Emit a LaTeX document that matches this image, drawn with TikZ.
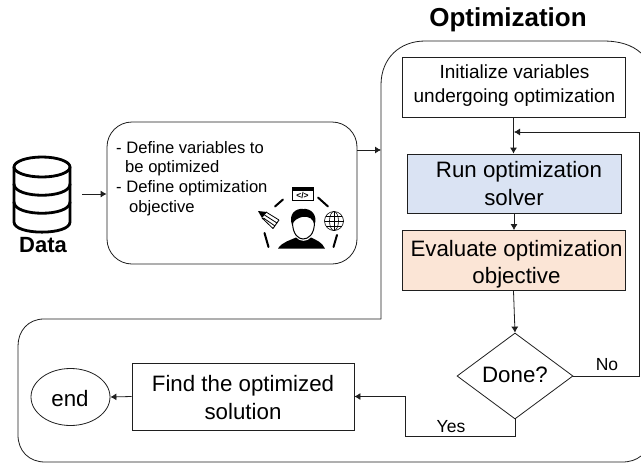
\documentclass[tikz,border=0pt]{standalone}
\usepackage{fontspec}
\setmainfont{Liberation Sans}
\usetikzlibrary{arrows.meta,shapes.geometric}
\definecolor{linegray}{gray}{0.12}
\definecolor{runblue}{HTML}{DAE3F3}
\definecolor{evalorange}{HTML}{FBE5D6}
\tikzset{
  flowbox/.style={draw=linegray,line width=0.8pt,inner sep=0pt,align=center,font=\fontsize{22.3}{27.5}\selectfont},
  flowtext/.style={inner sep=0pt,align=center,font=\fontsize{22.3}{27.5}\selectfont},
  flow/.style={draw=linegray,line width=0.8pt,-{Latex[length=6pt,width=7pt]}},
  plain/.style={draw=linegray,line width=0.8pt},
  lbl/.style={font=\fontsize{17.5}{20}\selectfont,inner sep=0pt},
  icon/.style={draw=black,line width=2pt,line cap=round},
  dbline/.style={draw=black,line width=2.8pt,line cap=round,line join=round}
}
\begin{document}
\begin{tikzpicture}[x=1pt,y=-1pt]
\useasboundingbox (0,0) rectangle (641,464);
\fill[white] (0,0) rectangle (641,464);
% outer border
\draw[plain] (381,319) -- (381,85) .. controls (381,58) and (400,41) .. (425,41) -- (603,41)
  .. controls (620,41) and (632,45) .. (641,53);
\draw[plain] (381,319) -- (44,319) .. controls (28,319) and (18,331) .. (18,346) -- (18,435)
  .. controls (18,451) and (29,462) .. (45,462) -- (622,462) .. controls (630,462) and (636,460) .. (641,456);
% title and labels
\node[font=\bfseries\fontsize{26}{30}\selectfont,inner sep=0pt] (title) at (508,20) {Optimization};
\node[font=\bfseries\fontsize{22}{26}\selectfont,inner sep=0pt] (datalbl) at (43,245) {Data};
% database icon
\draw[dbline] (42,167) ellipse [x radius=28,y radius=10];
\draw[dbline] (14,167) -- (14,222) .. controls (14,235.5) and (70,235.5) .. (70,222) -- (70,167);
\draw[dbline] (14,184) .. controls (14,199) and (70,199) .. (70,184);
\draw[dbline] (14,202) .. controls (14,217) and (70,217) .. (70,202);
\coordinate (dbout) at (82,194);
% define box
\node[draw=linegray,line width=0.8pt,rounded corners=25pt,minimum width=250pt,minimum height=142pt,inner sep=0pt] (define) at (232,193) {};
\node[anchor=north west,inner sep=0pt,align=left,font=\fontsize{16.6}{19.6}\selectfont] (deftxt) at (116,141)
  {- Define variables to\\\hspace{9pt}be optimized\\- Define optimization\\\hspace{13pt}objective};
% person icon
\draw[icon] (275,206.5) -- (283,199.5);
\draw[icon] (318,197.5) -- (328,206.5);
\draw[icon] (264.5,233) -- (268.5,247);
\draw[icon] (337,235) -- (333.5,247);
% window
\draw[line width=0.9pt] (292.5,187.5) rectangle (313,200.5);
\fill[black] (292.5,187.5) rectangle (313,190.5);
\node[font=\bfseries\fontsize{8.5}{8.5}\selectfont,inner sep=0pt] (codeicon) at (302.5,195.5) {</>};
% globe
\draw[line width=0.6pt] (334,221) circle [radius=9.5];
\draw[line width=0.6pt] (334,221) ellipse [x radius=4.5,y radius=9.5];
\draw[line width=0.6pt] (324.5,221) -- (343.5,221) (334,211.5) -- (334,230.5) (326,216) -- (342,216) (326,226) -- (342,226);
% pencil
\fill[black] (258,211) -- (267,212) -- (262,218) -- cycle;
\draw[line width=0.8pt] (266,212) -- (279,220) (264.5,215) -- (277,223) (263.5,218) -- (275,226) (262,218) -- (273,228.5);
\draw[line width=0.9pt] (279,220) -- (273,228.5);
% person
\draw[line width=1pt] (292.5,222) .. controls (292.5,235) and (299,239) .. (303,239) .. controls (308,239) and (314.5,235) .. (314.5,222);
\fill[black] (292,225) .. controls (288,214) and (296,208) .. (303,209) .. controls (311,208) and (318,215) .. (314.5,225)
  .. controls (313,219) and (310,216) .. (302,217) .. controls (298,218) and (294,220) .. (292,225) -- cycle;
\fill[black] (278,248.5) .. controls (282,242) and (291,240) .. (296,237.5) .. controls (299,242) and (308,242) .. (311,237.5)
  .. controls (316,240) and (322,242) .. (325,248.5) -- cycle;
% flow boxes
\node[flowbox,font=\fontsize{19}{23.5}\selectfont,minimum width=223pt,minimum height=60pt] (init) at (513.5,87) {};
\node[flowtext,font=\fontsize{19}{23.5}\selectfont] (inittxt) at (514.5,85.5) {Initialize variables\\undergoing optimization};
\node[flowbox,fill=runblue,minimum width=214pt,minimum height=59pt] (run) at (514,183.5) {\hspace{10pt}Run optimization\\solver};
\node[flowbox,fill=evalorange,minimum width=223pt,minimum height=60pt] (eval) at (513.5,260.5) {};
\node[flowtext] (evaltxt) at (516.5,264) {Evaluate optimization\\objective};
\node[flowbox,shape=diamond,aspect=1.35,minimum width=116pt,minimum height=86pt] (done) at (515,376) {};
\node[flowtext] (donetxt) at (515,374.5) {Done?};
\node[flowbox,minimum width=222pt,minimum height=67pt] (find) at (243,396.5) {};
\node[flowtext] (findtxt) at (243,397.5) {Find the optimized\\solution};
\node[flowbox,shape=ellipse,minimum width=79pt,minimum height=57pt] (endn) at (70.5,397) {};
\node[flowtext] (endtxt) at (70,398.5) {end};
% connectors
\draw[flow] (dbout) -- (define.west |- dbout);
\coordinate (optin) at (381,150);
\draw[flow] (define.east |- optin) -- (optin);
\draw[flow] (init.south) -- (run.north -| init.south);
\draw[flow] (run.south) -- (eval.north -| run.south);
\draw[flow] (eval.south) -- (done.north);
\coordinate (loopR) at (639,132);
\coordinate (loopJ) at (514,132);
\draw[flow] (done.east) -| (loopR) -- (loopJ);
\coordinate (yesA) at (405,436.5);
\draw[flow] (done.south) |- (yesA) |- (find.east);
\draw[flow] (find.west) -- (endn.east);
\node[lbl] (nolbl) at (607,365) {No};
\node[lbl] (yeslbl) at (451,426.5) {Yes};
\end{tikzpicture}
\end{document}
